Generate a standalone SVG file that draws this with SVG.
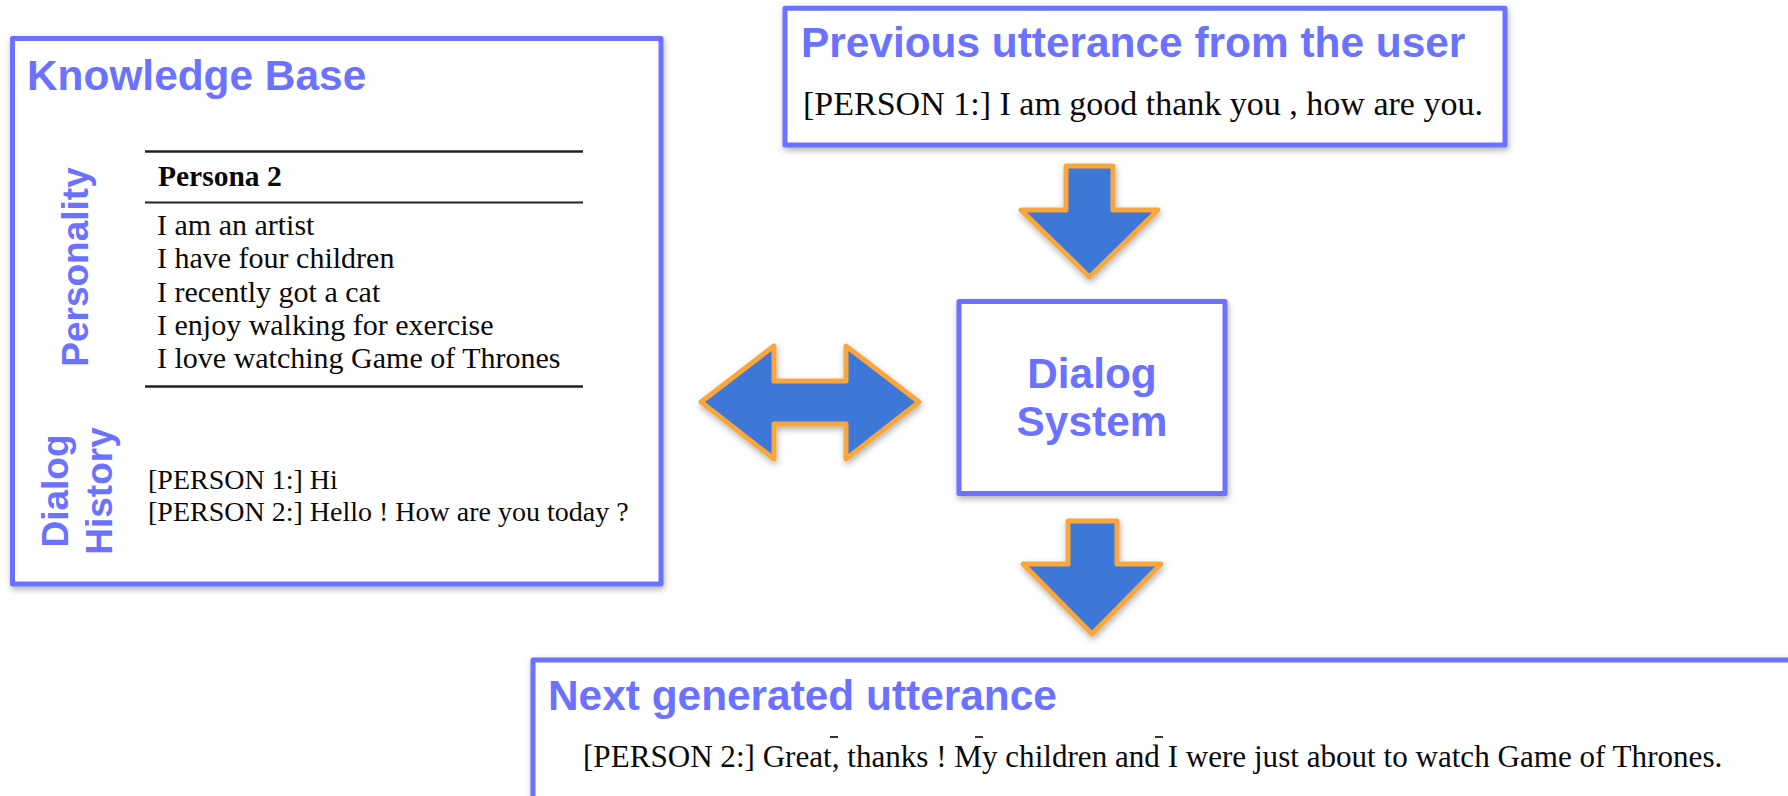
<svg xmlns="http://www.w3.org/2000/svg" width="1788" height="796" viewBox="0 0 1788 796">
  <defs>
    <filter id="shadow" x="-10%" y="-10%" width="120%" height="130%">
      <feDropShadow dx="1" dy="3" stdDeviation="3" flood-color="#000" flood-opacity="0.3"/>
    </filter>
    <style>
      .box { fill: #fff; stroke: #6b72ff; stroke-width: 5; stroke-linejoin: round; filter: url(#shadow); }
      .title { font-family: "Liberation Sans", Arial, sans-serif; font-weight: bold; font-size: 42.4px; fill: #6b72ff; }
      .side { font-family: "Liberation Sans", Arial, sans-serif; font-weight: bold; font-size: 37px; fill: #6b72ff; }
      .serif { font-family: "Liberation Serif", "Times New Roman", serif; fill: #0a0a0a; }
      .rule { stroke: #222; }
      .arrow { fill: #3c78d8; stroke: #f9a73e; stroke-width: 5; stroke-linejoin: round; filter: url(#shadow); }
    </style>
  </defs>
  <rect width="1788" height="796" fill="#fff"/>

  <!-- Knowledge base panel -->
  <g id="knowledge-base">
    <rect class="box" x="12.5" y="38.5" width="648.5" height="545.5"/>
    <text class="title" x="27" y="90">Knowledge Base</text>
    <text class="side" transform="translate(88,267) rotate(-90)" text-anchor="middle">Personality</text>
    <text class="side" transform="translate(68,491) rotate(-90)" text-anchor="middle">Dialog</text>
    <text class="side" transform="translate(112,491) rotate(-90)" text-anchor="middle">History</text>
    <line class="rule" x1="145" y1="151.5" x2="583" y2="151.5" stroke-width="2.6"/>
    <line class="rule" x1="145" y1="202.5" x2="583" y2="202.5" stroke-width="1.8"/>
    <line class="rule" x1="145" y1="386.5" x2="583" y2="386.5" stroke-width="2.6"/>
    <text class="serif" x="158" y="186" font-size="29.5" font-weight="bold">Persona 2</text>
    <g class="serif" font-size="30">
      <text x="157" y="235">I am an artist</text>
      <text x="157" y="268.3">I have four children</text>
      <text x="157" y="301.7">I recently got a cat</text>
      <text x="157" y="335">I enjoy walking for exercise</text>
      <text x="157" y="368.3">I love watching Game of Thrones</text>
    </g>
    <g class="serif" font-size="28">
      <text x="148" y="489">[PERSON 1:] Hi</text>
      <text x="148" y="521">[PERSON 2:] Hello ! How are you today ?</text>
    </g>
  </g>

  <!-- Previous utterance panel -->
  <g id="previous-utterance">
    <rect class="box" x="785" y="8.3" width="720" height="136.7"/>
    <text class="title" x="801" y="57">Previous utterance from the user</text>
    <text class="serif" x="803" y="115" font-size="34">[PERSON 1:] I am good thank you , how are you.</text>
  </g>

  <!-- Dialog system -->
  <g id="dialog-system">
    <rect class="box" x="959" y="301.5" width="266" height="192"/>
    <text class="title" x="1092" y="388" text-anchor="middle">Dialog</text>
    <text class="title" x="1092" y="436" text-anchor="middle">System</text>
  </g>

  <!-- Next generated utterance panel -->
  <g id="next-utterance">
    <rect class="box" x="533" y="660" width="1300" height="200"/>
    <text class="title" x="548" y="710">Next generated utterance</text>
    <g fill="#333">
      <rect x="830" y="736" width="8" height="2"/>
      <rect x="975" y="736" width="8" height="2"/>
      <rect x="1155" y="736" width="8" height="2"/>
    </g>
    <text class="serif" x="583" y="767" font-size="31.1">[PERSON 2:] Great, thanks ! My children and I were just about to watch Game of Thrones.</text>
  </g>

  <!-- Block arrows between the panels -->
  <g id="connectors">
    <path class="arrow" d="M1066,166 H1113 V210 H1158 L1089.5,277 L1021,210 H1066 Z"/>
    <path class="arrow" d="M701,402 L774,346 V381 H846 V346 L919,402 L846,459 V424 H774 V459 Z"/>
    <path class="arrow" d="M1068,521 H1117 V564 H1161 L1092,634 L1023,564 H1068 Z"/>
  </g>
</svg>
